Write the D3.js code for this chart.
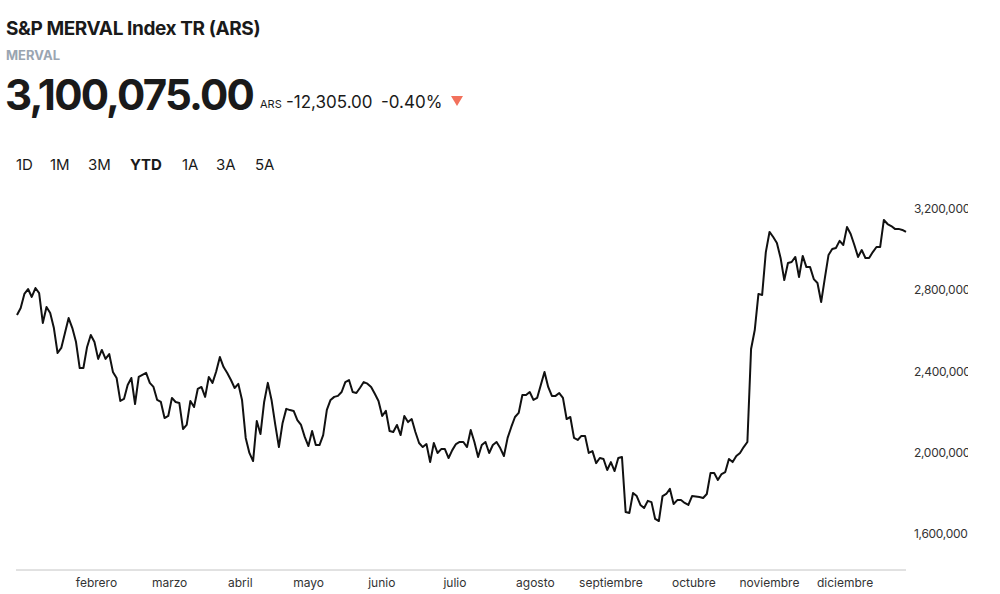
<!DOCTYPE html>
<html>
<head>
<meta charset="utf-8">
<script src="https://cdn.jsdelivr.net/npm/d3@7"></script>
<style>
  body { margin: 0; background: #fff; font-family: Inter, "Open Sans", sans-serif; }
  svg { display: block; }
</style>
</head>
<body>
<div id="chart"></div>
<script>
// header
var title = "S&P MERVAL Index TR (ARS)";
var ticker = "MERVAL";
var lastValue = "3,100,075.00";
var currency = "ARS";
var change = "-12,305.00";
var changePct = "-0.40%";
var ranges = ["1D", "1M", "3M", "YTD", "1A", "3A", "5A"];
var activeRange = "YTD";

// daily closes (thousands ARS), one per trading day
var values = [2678, 2713, 2782, 2806, 2767, 2811, 2786, 2639, 2718, 2688, 2614, 2491, 2516, 2590,
  2663, 2614, 2545, 2417, 2417, 2521, 2580, 2545, 2462, 2506, 2462, 2486, 2398, 2368, 2255, 2265,
  2334, 2368, 2240, 2373, 2383, 2393, 2344, 2324, 2260, 2250, 2171, 2181, 2270, 2250, 2245, 2117,
  2137, 2255, 2225, 2314, 2324, 2275, 2373, 2344, 2400, 2471, 2422, 2393, 2358, 2319, 2339, 2260,
  2073, 1999, 1959, 2156, 2092, 2250, 2344, 2260, 2140, 2028, 2147, 2216, 2210, 2206, 2161, 2137,
  2078, 2033, 2107, 2038, 2038, 2087, 2211, 2260, 2275, 2280, 2299, 2348, 2358, 2299, 2294, 2320,
  2348, 2340, 2324, 2290, 2255, 2181, 2206, 2107, 2102, 2137, 2087, 2181, 2151, 2166, 2102, 2048,
  2028, 2043, 1954, 2048, 1999, 2018, 2018, 1974, 2013, 2043, 2053, 2053, 2028, 2112, 2053, 1979,
  2038, 2053, 1999, 2038, 2053, 2023, 1984, 2073, 2127, 2176, 2196, 2284, 2284, 2299, 2260, 2270,
  2334, 2398, 2324, 2280, 2280, 2294, 2270, 2166, 2176, 2073, 2063, 2083, 2083, 1999, 2008, 1949,
  1974, 1969, 1915, 1954, 1910, 1974, 1979, 1708, 1703, 1802, 1787, 1743, 1728, 1763, 1757, 1674,
  1664, 1787, 1797, 1822, 1748, 1767, 1767, 1753, 1743, 1787, 1785, 1782, 1777, 1797, 1900, 1900,
  1866, 1895, 1905, 1969, 1954, 1984, 1999, 2028, 2053, 2511, 2604, 2782, 2777, 2988, 3087, 3062,
  3033, 2959, 2850, 2934, 2939, 2964, 2865, 2969, 2914, 2914, 2855, 2836, 2742, 2860, 2974, 3003,
  3008, 3043, 3023, 3111, 3077, 3023, 2964, 2998, 2959, 2959, 2988, 3013, 3013, 3146, 3126, 3116,
  3102, 3102, 3097, 3087];

var months = ["febrero", "marzo", "abril", "mayo", "junio", "julio", "agosto", "septiembre",
  "octubre", "noviembre", "diciembre"];
// date each month label is centred on
var monthDates = ["2024-02-03", "2024-03-04", "2024-04-02", "2024-04-30", "2024-05-30", "2024-06-29",
  "2024-08-01", "2024-09-01", "2024-10-05", "2024-11-05", "2024-12-06"];
var yTicks = [1600000, 2000000, 2400000, 2800000, 3200000];

var width = 1000, height = 594;
var svg = d3.select("#chart").append("svg").attr("width", width).attr("height", height);

svg.append("text").attr("x", 6).attr("y", 35).attr("font-size", 19).attr("font-weight", 700)
  .attr("letter-spacing", -0.4).attr("fill", "#1a1a1a").text(title);
svg.append("text").attr("x", 6).attr("y", 60).attr("font-size", 13).attr("font-weight", 700)
  .attr("fill", "#9aa5b1").text(ticker);
svg.append("text").attr("x", 5).attr("y", 110).attr("font-size", 42).attr("font-weight", 700)
  .attr("letter-spacing", -1.8).attr("fill", "#1a1a1a").text(lastValue);
svg.append("text").attr("x", 260).attr("y", 108).attr("font-size", 11).attr("fill", "#1a1a1a").text(currency);
svg.append("text").attr("x", 286).attr("y", 108).attr("font-size", 17).attr("fill", "#1a1a1a").text(change);
svg.append("text").attr("x", 381).attr("y", 108).attr("font-size", 17).attr("fill", "#1a1a1a").text(changePct);
svg.append("path").attr("d", "M451,96 L463,96 L457,106 Z").attr("fill", "#f2715c");

var rangeX = [16, 50, 88, 130, 182, 216, 255];
ranges.forEach(function (r, i) {
  svg.append("text").attr("x", rangeX[i]).attr("y", 170).attr("font-size", 15)
    .attr("font-weight", r === activeRange ? 700 : 400).attr("fill", "#1a1a1a").text(r);
});

// scales
var x = d3.scaleLinear().domain([0, values.length - 1]).range([17, 906]);
var y = d3.scaleLinear().domain([1600000, 3200000]).range([534, 209]);
var monthX = d3.scaleTime().domain([new Date(2024, 0, 1), new Date(2024, 11, 31)]).range([16, 906]);
var parse = d3.timeParse("%Y-%m-%d");

svg.append("line").attr("x1", 16).attr("x2", 906).attr("y1", 570).attr("y2", 570)
  .attr("stroke", "#c4c4c4").attr("stroke-width", 1);

svg.append("path")
  .datum(values)
  .attr("fill", "none").attr("stroke", "#111").attr("stroke-width", 2).attr("stroke-linejoin", "round")
  .attr("d", d3.line().x(function (d, i) { return x(i); }).y(function (d) { return y(d * 1000); }));

var clip = svg.append("clipPath").attr("id", "yclip");
clip.append("rect").attr("x", 900).attr("y", 190).attr("width", 68).attr("height", 360);
var yg = svg.append("g").attr("clip-path", "url(#yclip)");
yg.selectAll("text").data(yTicks).enter().append("text")
  .attr("x", 914).attr("y", function (d) { return y(d) + 4; })
  .attr("font-size", 12).attr("letter-spacing", -0.3).attr("fill", "#333")
  .text(function (d) { return d3.format(",")(d); });

svg.selectAll(".month").data(months).enter().append("text")
  .attr("class", "month")
  .attr("x", function (d, i) { return monthX(parse(monthDates[i])); })
  .attr("y", 587).attr("text-anchor", "middle").attr("font-size", 12).attr("fill", "#333")
  .text(function (d) { return d; });
</script>
</body>
</html>
